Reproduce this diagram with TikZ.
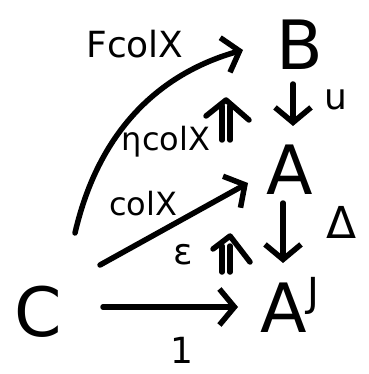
\documentclass[tikz,border=0pt]{standalone}
\usepackage{fontspec}
\setmainfont{DejaVu Sans}
\usetikzlibrary{arrows.meta}
\begin{document}
\begin{tikzpicture}[x=1pt,y=-1pt,
  obj/.style={font=\fontsize{68}{68}\selectfont, inner sep=0pt},
  lab/.style={font=\fontsize{36}{36}\selectfont, inner sep=0pt},
  stroke/.style={line width=5.5pt, line cap=round, line join=round},
  arr/.style={stroke, -{Straight Barb[length=15pt,width=36pt,line width=5.5pt]}}]
\useasboundingbox (0,0) rectangle (368,374);
\node[obj] (B) at (300,45) {B};
\node[obj] (A) at (290,170) {A};
\node[obj] (AJ) at (290,305) {A\raisebox{26pt}{\fontsize{40}{40}\selectfont J}};
\node[obj] (C) at (38,312) {C};
\coordinate (s1) at (75,233);
\coordinate (e1) at (243,50);
\coordinate (s2) at (100,265);
\coordinate (e2) at (248,183);
\coordinate (s3) at (103,307);
\coordinate (e3) at (238,307);
\draw[arr] (s1) .. controls (100,125) and (165,72) .. (e1);
\draw[arr] (s2) -- (e2);
\draw[arr] (s3) -- (e3);
\draw[arr] (293,84) -- (293,126);
\draw[arr] (283,203) -- (283,263);
% 2-cells
\draw[stroke] (222,140) -- (222,106) (230,140) -- (230,106);
\draw[stroke] (206,116) -- (226,100) -- (249,120);
\draw[stroke] (222,272) -- (222,246) (230,272) -- (230,246);
\draw[stroke] (213,249) -- (230,236) -- (250,262);
\node[lab] (l1) at (135,44) {FcolX};
\node[lab] (l2) at (336,100) {u};
\node[lab, font=\fontsize{32}{32}\selectfont] (l3) at (166,142) {ηcolX};
\node[lab, font=\fontsize{32}{32}\selectfont] (l4) at (143,204) {colX};
\node[lab, font=\fontsize{44}{44}\selectfont] (l5) at (342,222) {Δ};
\node[lab] (l6) at (183,255) {ε};
\node[lab] (l7) at (182,350) {1};
\end{tikzpicture}
\end{document}
